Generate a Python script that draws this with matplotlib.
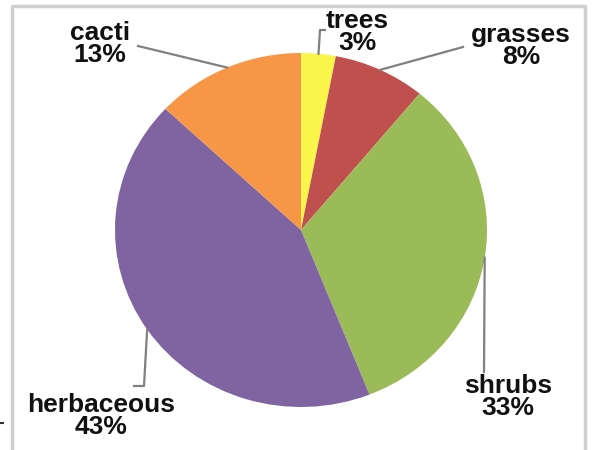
import numpy as np
import matplotlib.pyplot as plt

labels = ["trees", "grasses", "shrubs", "herbaceous", "cacti"]
shares = [3, 8, 33, 43, 13]
colors = ["#FAF54A", "#C0504D", "#9BBB59", "#8064A2", "#F79646"]

W, H = 595, 450
cx, cy, rx, ry = 301, 230, 186, 177

fig = plt.figure(figsize=(W / 100, H / 100), dpi=100)
ax = fig.add_axes([(cx - rx) / W, (H - cy - ry) / H, 2 * rx / W, 2 * ry / H])
wedges, _ = ax.pie(shares, colors=colors, startangle=90, counterclock=False,
                   radius=1, wedgeprops=dict(linewidth=0))
ax.set_aspect("auto")
ax.set_xlim(-1, 1)
ax.set_ylim(-1, 1)
ax.axis("off")


def to_data(px, py):
    return (px - cx) / rx, (cy - py) / ry


# label centres and leader-line bends (pixels)
label_pos = {
    "trees": (357, 32),
    "grasses": (521, 46),
    "shrubs": (508, 397),
    "herbaceous": (101, 416),
    "cacti": (100, 44),
}
leader_ends = {
    "trees": [(320, 30), (325, 30)],
    "grasses": [(463, 47)],
    "shrubs": [(484, 372)],
    "herbaceous": [(144, 386), (134, 386)],
    "cacti": [(138, 46)],
}

for w, lab, val in zip(wedges, labels, shares):
    mid = np.deg2rad((w.theta1 + w.theta2) / 2)
    pts = [(np.cos(mid), np.sin(mid))] + [to_data(*p) for p in leader_ends[lab]]
    xs, ys = zip(*pts)
    ax.plot(xs, ys, color="#808080", lw=1.6, clip_on=False, zorder=3)
    tx, ty = to_data(*label_pos[lab])
    ax.text(tx, ty, f"{lab}\n{val}%", ha="center", va="center",
            fontsize=19, fontweight="bold", family="Liberation Sans",
            color="#111111", linespacing=0.93)

# light grey frame around the chart (open at the bottom)
fx = [12 / W, 12 / W, 585 / W, 585 / W]
fy = [0, 1 - 6 / H, 1 - 6 / H, 0]
fig.lines.append(plt.Line2D(fx, fy, transform=fig.transFigure,
                            color="#CFCFCF", lw=2.5))
fig.lines.append(plt.Line2D([0, 3 / W], [1 - 423 / H] * 2, transform=fig.transFigure,
                            color="#333333", lw=1.5))

fig.savefig("out.png", dpi=100)
